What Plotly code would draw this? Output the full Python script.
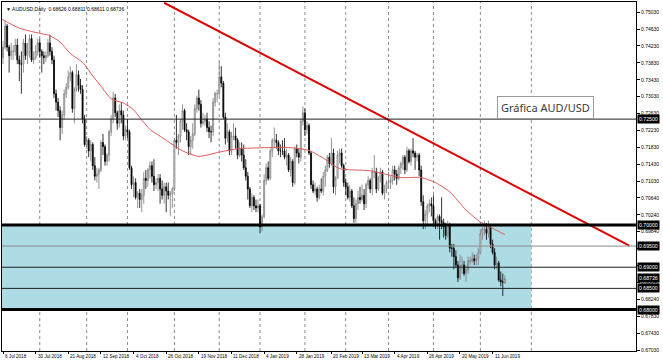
import pandas as pd
import plotly.graph_objects as go

# ---------------- data (AUDUSD daily) ----------------
opens = [0.7395,
 0.7420,0.7470,0.7420,0.7400,0.7410,
 0.7410,0.7425,0.7390,0.7380,0.7380,
 0.7430,0.7400,0.7410,0.7440,0.7390,
 0.7395,0.7410,0.7430,0.7410,0.7400,
 0.7395,0.7400,0.7430,0.7410,0.7390,
 0.7310,0.7290,0.7270,0.7230,0.7260,
 0.7310,0.7325,0.7350,0.7360,0.7275,
 0.7320,0.7355,0.7330,0.7320,0.7250,
 0.7190,0.7200,0.7175,0.7190,0.7140,
 0.7115,0.7120,0.7130,0.7195,0.7185,
 0.7150,0.7165,0.7220,0.7250,0.7300,
 0.7265,0.7240,0.7270,0.7260,0.7210,
 0.7225,0.7220,0.7135,0.7095,0.7100,
 0.7065,0.7075,0.7060,0.7070,0.7110,
 0.7105,0.7130,0.7140,0.7115,0.7095,
 0.7100,0.7110,0.7085,0.7070,0.7090,
 0.7080,0.7070,0.7075,0.7085,0.7200,
 0.7195,0.7210,0.7245,0.7270,0.7225,
 0.7220,0.7185,0.7200,0.7215,0.7275,
 0.7300,0.7285,0.7240,0.7245,0.7250,
 0.7230,0.7220,0.7220,0.7290,0.7310,
 0.7310,0.7350,0.7335,0.7255,0.7205,
 0.7220,0.7175,0.7210,0.7210,0.7200,
 0.7165,0.7180,0.7165,0.7135,0.7115,
 0.7085,0.7045,0.7065,0.7045,
 0.7040,0.7045,0.6995,0.7020,
 0.7105,0.7135,0.7110,0.7175,0.7200,
 0.7200,0.7195,0.7175,0.7175,0.7175,
 0.7160,0.7165,0.7130,0.7150,0.7100,
 0.7180,0.7170,0.7160,0.7245,0.7265,
 0.7225,0.7235,0.7170,0.7095,0.7080,
 0.7085,0.7065,0.7085,0.7080,0.7115,
 0.7130,0.7160,0.7145,0.7170,0.7090,
 0.7110,0.7165,0.7170,0.7140,0.7100,
 0.7090,0.7065,0.7080,0.7045,0.7015,
 0.7050,0.7065,0.7060,0.7070,0.7050,
 0.7095,0.7105,0.7085,0.7125,0.7125,
 0.7085,0.7110,0.7125,0.7075,0.7085,
 0.7100,0.7100,0.7105,0.7130,0.7120,
 0.7110,0.7135,0.7145,0.7160,0.7130,
 0.7175,0.7150,0.7175,0.7170,0.7160,
 0.7165,0.7130,0.7055,0.7010,0.7025,
 0.7045,0.7050,0.7045,0.7010,0.7000,
 0.7020,0.7010,0.7005,0.6995,0.6975,
 0.7000,0.6945,0.6945,0.6925,0.6905,
 0.6875,0.6905,0.6905,0.6885,0.6895,
 0.6915,0.6915,0.6920,0.6915,0.6920,
 0.6935,0.6980,0.6990,0.6990,0.6980,
 0.6995,0.6955,0.6935,0.6905,0.6910,
 0.6870,0.6865,0.68626]

highs = [0.7435,
 0.7483,0.7475,0.7425,0.7430,0.7425,
 0.7440,0.7440,0.7400,0.7410,0.7440,
 0.7450,0.7430,0.7450,0.7450,0.7410,
 0.7425,0.7440,0.7440,0.7415,0.7410,
 0.7410,0.7440,0.7450,0.7420,0.7400,
 0.7320,0.7300,0.7280,0.7270,0.7320,
 0.7335,0.7365,0.7375,0.7365,0.7325,
 0.7380,0.7365,0.7345,0.7330,0.7260,
 0.7210,0.7205,0.7200,0.7195,0.7160,
 0.7135,0.7135,0.7200,0.7215,0.7190,
 0.7170,0.7225,0.7260,0.7315,0.7310,
 0.7270,0.7285,0.7290,0.7270,0.7235,
 0.7250,0.7225,0.7140,0.7115,0.7110,
 0.7080,0.7085,0.7085,0.7125,0.7130,
 0.7135,0.7150,0.7150,0.7155,0.7110,
 0.7120,0.7120,0.7105,0.7100,0.7100,
 0.7100,0.7080,0.7090,0.7205,0.7260,
 0.7215,0.7250,0.7285,0.7275,0.7240,
 0.7225,0.7210,0.7240,0.7285,0.7305,
 0.7320,0.7295,0.7265,0.7260,0.7265,
 0.7245,0.7235,0.7300,0.7315,0.7320,
 0.7385,0.7375,0.7340,0.7265,0.7240,
 0.7225,0.7220,0.7240,0.7230,0.7205,
 0.7195,0.7195,0.7190,0.7155,0.7125,
 0.7090,0.7075,0.7070,0.7060,
 0.7060,0.7050,0.7025,0.7120,
 0.7145,0.7150,0.7180,0.7205,0.7230,
 0.7215,0.7200,0.7190,0.7200,0.7205,
 0.7180,0.7170,0.7160,0.7155,0.7185,
 0.7190,0.7180,0.7250,0.7280,0.7275,
 0.7245,0.7240,0.7175,0.7105,0.7100,
 0.7090,0.7095,0.7110,0.7125,0.7140,
 0.7165,0.7170,0.7205,0.7180,0.7115,
 0.7175,0.7180,0.7180,0.7145,0.7110,
 0.7100,0.7095,0.7085,0.7065,0.7060,
 0.7080,0.7090,0.7095,0.7085,0.7100,
 0.7115,0.7110,0.7135,0.7165,0.7135,
 0.7115,0.7135,0.7130,0.7095,0.7105,
 0.7125,0.7115,0.7140,0.7140,0.7130,
 0.7140,0.7150,0.7165,0.7165,0.7185,
 0.7180,0.7180,0.7205,0.7175,0.7170,
 0.7170,0.7140,0.7070,0.7035,0.7050,
 0.7060,0.7065,0.7070,0.7015,0.7025,
 0.7025,0.7065,0.7015,0.7005,0.7010,
 0.7005,0.6955,0.6955,0.6940,0.6915,
 0.6930,0.6925,0.6915,0.6905,0.6925,
 0.6925,0.6935,0.6930,0.6930,0.6945,
 0.6990,0.6995,0.7010,0.7005,0.7010,
 0.7000,0.6965,0.6945,0.6925,0.6915,
 0.6890,0.6885,0.68811]

lows = [0.7380,
 0.7415,0.7410,0.7360,0.7390,0.7390,
 0.7400,0.7380,0.7340,0.7310,0.7360,
 0.7390,0.7380,0.7395,0.7385,0.7380,
 0.7390,0.7400,0.7395,0.7360,0.7380,
 0.7385,0.7395,0.7400,0.7380,0.7300,
 0.7270,0.7255,0.7200,0.7215,0.7250,
 0.7300,0.7320,0.7340,0.7265,0.7240,
 0.7315,0.7315,0.7310,0.7240,0.7185,
 0.7180,0.7160,0.7150,0.7130,0.7105,
 0.7100,0.7085,0.7125,0.7165,0.7140,
 0.7140,0.7150,0.7210,0.7240,0.7255,
 0.7225,0.7230,0.7240,0.7200,0.7200,
 0.7205,0.7130,0.7085,0.7065,0.7060,
 0.7040,0.7040,0.7030,0.7050,0.7085,
 0.7090,0.7110,0.7100,0.7080,0.7085,
 0.7080,0.7050,0.7060,0.7050,0.7030,
 0.7060,0.7020,0.7040,0.7080,0.7180,
 0.7165,0.7195,0.7225,0.7220,0.7200,
 0.7165,0.7165,0.7180,0.7210,0.7265,
 0.7270,0.7230,0.7235,0.7235,0.7220,
 0.7205,0.7195,0.7210,0.7280,0.7290,
 0.7305,0.7325,0.7250,0.7190,0.7195,
 0.7165,0.7165,0.7200,0.7180,0.7155,
 0.7160,0.7150,0.7130,0.7105,0.7060,
 0.7040,0.7030,0.7035,0.7030,
 0.7030,0.6980,0.6985,0.7015,
 0.7095,0.7105,0.7105,0.7160,0.7185,
 0.7180,0.7165,0.7160,0.7165,0.7155,
 0.7140,0.7125,0.7115,0.7090,0.7095,
 0.7160,0.7145,0.7150,0.7235,0.7210,
 0.7215,0.7165,0.7085,0.7075,0.7070,
 0.7055,0.7060,0.7075,0.7070,0.7090,
 0.7125,0.7135,0.7140,0.7075,0.7070,
 0.7110,0.7145,0.7135,0.7090,0.7070,
 0.7060,0.7055,0.7040,0.7005,0.7005,
 0.7035,0.7050,0.7055,0.7035,0.7040,
 0.7085,0.7075,0.7070,0.7110,0.7075,
 0.7080,0.7100,0.7070,0.7060,0.7075,
 0.7090,0.7085,0.7095,0.7105,0.7095,
 0.7105,0.7120,0.7130,0.7120,0.7125,
 0.7145,0.7140,0.7160,0.7130,0.7150,
 0.7115,0.7045,0.6990,0.6990,0.7000,
 0.7030,0.7020,0.6995,0.6990,0.6990,
 0.6965,0.6990,0.6970,0.6965,0.6970,
 0.6935,0.6925,0.6895,0.6900,0.6865,
 0.6870,0.6885,0.6880,0.6865,0.6885,
 0.6905,0.6910,0.6905,0.6905,0.6905,
 0.6930,0.6965,0.6975,0.6965,0.6970,
 0.6945,0.6930,0.6895,0.6895,0.6865,
 0.6855,0.6832,0.68611]

closes = [0.7420,
 0.7470,0.7420,0.7400,0.7410,0.7410,
 0.7425,0.7390,0.7380,0.7380,0.7430,
 0.7400,0.7410,0.7440,0.7390,0.7395,
 0.7410,0.7430,0.7410,0.7400,0.7395,
 0.7400,0.7430,0.7410,0.7390,0.7310,
 0.7290,0.7270,0.7230,0.7260,0.7310,
 0.7325,0.7350,0.7360,0.7275,0.7320,
 0.7355,0.7330,0.7320,0.7250,0.7190,
 0.7200,0.7175,0.7190,0.7140,0.7115,
 0.7120,0.7130,0.7195,0.7185,0.7150,
 0.7165,0.7220,0.7250,0.7300,0.7265,
 0.7240,0.7270,0.7260,0.7210,0.7225,
 0.7220,0.7135,0.7095,0.7100,0.7065,
 0.7075,0.7060,0.7070,0.7110,0.7105,
 0.7130,0.7140,0.7115,0.7095,0.7100,
 0.7110,0.7085,0.7070,0.7090,0.7080,
 0.7070,0.7075,0.7085,0.7200,0.7195,
 0.7210,0.7245,0.7270,0.7225,0.7220,
 0.7185,0.7200,0.7215,0.7275,0.7300,
 0.7285,0.7240,0.7245,0.7250,0.7230,
 0.7220,0.7220,0.7290,0.7310,0.7310,
 0.7350,0.7335,0.7255,0.7205,0.7220,
 0.7175,0.7210,0.7210,0.7200,0.7165,
 0.7180,0.7165,0.7135,0.7115,0.7085,
 0.7045,0.7065,0.7045,0.7040,
 0.7045,0.6995,0.7020,0.7105,
 0.7135,0.7110,0.7175,0.7200,0.7200,
 0.7195,0.7175,0.7175,0.7175,0.7160,
 0.7165,0.7130,0.7150,0.7100,0.7180,
 0.7170,0.7160,0.7245,0.7265,0.7225,
 0.7235,0.7170,0.7095,0.7080,0.7085,
 0.7065,0.7085,0.7080,0.7115,0.7130,
 0.7160,0.7145,0.7170,0.7090,0.7110,
 0.7165,0.7170,0.7140,0.7100,0.7090,
 0.7065,0.7080,0.7045,0.7015,0.7050,
 0.7065,0.7060,0.7070,0.7050,0.7095,
 0.7105,0.7085,0.7125,0.7125,0.7085,
 0.7110,0.7125,0.7075,0.7085,0.7100,
 0.7100,0.7105,0.7130,0.7120,0.7110,
 0.7135,0.7145,0.7160,0.7130,0.7175,
 0.7150,0.7175,0.7170,0.7160,0.7165,
 0.7130,0.7055,0.7010,0.7025,0.7045,
 0.7050,0.7045,0.7010,0.7000,0.7020,
 0.7010,0.7005,0.6995,0.6975,0.7000,
 0.6945,0.6945,0.6925,0.6905,0.6875,
 0.6905,0.6905,0.6885,0.6895,0.6915,
 0.6915,0.6920,0.6915,0.6920,0.6935,
 0.6980,0.6990,0.6990,0.6980,0.6995,
 0.6955,0.6935,0.6905,0.6910,0.6870,
 0.6865,0.6865,0.68736]

# 50-day moving average at selected bars
ma_bars = [-1, 8, 15, 23, 28, 33, 39, 44, 48, 53, 59, 64, 68, 72, 80, 88, 96,
           106, 115, 125, 140, 150, 158, 165, 180, 195, 205, 212, 219, 227, 234, 240, 246]
ma_values = [0.7487, 0.7465, 0.7456, 0.7447, 0.7432, 0.7405, 0.7384, 0.7352, 0.7328,
             0.7298, 0.7288, 0.7272, 0.7248, 0.7226, 0.7200, 0.7175, 0.7162, 0.7172,
             0.7180, 0.7182, 0.7183, 0.7176, 0.7155, 0.7133, 0.7128, 0.7112, 0.7112,
             0.7100, 0.7078, 0.7035, 0.7007, 0.6992, 0.6977]

# red trend line (two anchor points: bar index, price)
trend_bars = [79, 307]
trend_prices = [0.7525, 0.6951]

# horizontal price lines
level_prices = [0.7250, 0.7000, 0.6950, 0.6900, 0.6850, 0.6800]
level_widths = [1, 3, 1, 1, 1, 3]
level_colors = ["#202020", "#000000", "#8a8a8a", "#202020", "#202020", "#000000"]

# shaded zone
zone_bars = [-0.5, 259]
zone_prices = [0.6800, 0.7000]

# price boxes on the right scale
box_prices = [0.72500, 0.70000, 0.69500, 0.69000, 0.68736, 0.68500, 0.68000]
box_texts = ["0.72500", "0.70000", "0.69500", "0.69000", "0.68736", "0.68500", "0.68000"]

# right axis ticks
y_tick_vals = [0.75030, 0.74630, 0.74230, 0.73830, 0.73430, 0.73030, 0.72630, 0.72230,
               0.71830, 0.71430, 0.71030, 0.70640, 0.70240, 0.69840, 0.69440, 0.69040,
               0.68640, 0.68240, 0.67830, 0.67430, 0.67030]
y_tick_text = ["%.5f" % v for v in y_tick_vals]

# time axis labels
x_label_dates = ["2018-07-06", "2018-07-30", "2018-08-21", "2018-09-12", "2018-10-04",
                 "2018-10-26", "2018-11-19", "2018-12-11", "2019-01-04", "2019-01-28",
                 "2019-02-20", "2019-03-13", "2019-04-04", "2019-04-26", "2019-05-20",
                 "2019-06-11"]
x_label_text = ["6 Jul 2018", "30 Jul 2018", "21 Aug 2018", "12 Sep 2018", "4 Oct 2018",
                "26 Oct 2018", "19 Nov 2018", "11 Dec 2018", "4 Jan 2019", "28 Jan 2019",
                "20 Feb 2019", "13 Mar 2019", "4 Apr 2019", "26 Apr 2019", "20 May 2019",
                "11 Jun 2019"]

# vertical dotted separators (month starts)
grid_dates = ["2018-08-01", "2018-09-03", "2018-10-01", "2018-11-01", "2018-12-03",
              "2019-01-02", "2019-02-01", "2019-03-01", "2019-04-01", "2019-05-01",
              "2019-06-03"]
future_grid_bars = [259]

title_text = "\u25bc AUDUSD,Daily  0.68626 0.68811 0.68611 0.68736"
note_text = "Gráfica AUD/USD"

# ---------------- build ----------------
holidays = {"2018-12-25", "2019-01-01"}
all_days = [d.strftime("%Y-%m-%d") for d in pd.bdate_range("2018-07-06", "2019-06-19")]
trade_days = [d for d in all_days if d not in holidays]
n = min(len(trade_days), len(opens), len(highs), len(lows), len(closes))
bars = list(range(n))
pos = {d: i for i, d in enumerate(trade_days)}

FONT = "Liberation Sans"

fig = go.Figure()

fig.add_trace(go.Candlestick(
    x=bars, open=opens[:n], high=highs[:n], low=lows[:n], close=closes[:n],
    increasing=dict(line=dict(color="#7a7a7a", width=0.8), fillcolor="#ffffff"),
    decreasing=dict(line=dict(color="#000000", width=0.8), fillcolor="#000000"),
    whiskerwidth=0, showlegend=False, hoverinfo="skip"))

fig.add_trace(go.Scatter(x=ma_bars, y=ma_values, mode="lines",
                         line=dict(color="#e05a5a", width=1, shape="spline", smoothing=0.6),
                         showlegend=False, hoverinfo="skip"))

fig.add_trace(go.Scatter(x=trend_bars, y=trend_prices, mode="lines",
                         line=dict(color="#dd0000", width=2),
                         showlegend=False, hoverinfo="skip"))

shapes = []
shapes.append(dict(type="rect", xref="x", yref="y", x0=zone_bars[0], x1=zone_bars[1],
                   y0=zone_prices[0], y1=zone_prices[1], fillcolor="#aedce4",
                   line=dict(width=0), layer="below"))
grid_bars = [pos[d] for d in grid_dates if d in pos] + future_grid_bars
for gb in grid_bars:
    shapes.append(dict(type="line", xref="x", yref="paper", x0=gb, x1=gb, y0=0, y1=1,
                       line=dict(color="#8c8c8c", width=1, dash="dot"), layer="below"))
for p, w, c in zip(level_prices, level_widths, level_colors):
    shapes.append(dict(type="line", xref="paper", yref="y", x0=0, x1=1, y0=p, y1=p,
                       line=dict(color=c, width=w), layer="above"))

annotations = []
for d, t in zip(x_label_dates, x_label_text):
    if d in pos:
        annotations.append(dict(x=pos[d], y=0, xref="x", yref="paper", text=t,
                                showarrow=False, xanchor="left", yanchor="top", yshift=-1,
                                font=dict(family=FONT, size=4.6, color="#000000")))
for p, t in zip(box_prices, box_texts):
    annotations.append(dict(x=1, y=p, xref="paper", yref="y", text=t, showarrow=False,
                            xanchor="left", yanchor="middle", xshift=1,
                            bgcolor="#000000", borderpad=1,
                            font=dict(family=FONT, size=5.2, color="#ffffff")))
annotations.append(dict(x=0, y=1, xref="paper", yref="paper", text=title_text,
                        showarrow=False, xanchor="left", yanchor="top", xshift=2, yshift=-2,
                        font=dict(family=FONT, size=5, color="#000000")))
annotations.append(dict(x=0.8565, y=0.698, xref="paper", yref="paper", text=note_text,
                        showarrow=False, xanchor="center", yanchor="middle",
                        bgcolor="#ffffff", bordercolor="#9a9a9a", borderwidth=1, borderpad=3,
                        font=dict(family="Noto Sans", size=11, color="#3a3a3a")))

fig.update_layout(
    width=663, height=362,
    margin=dict(l=2, r=27, t=2, b=11),
    paper_bgcolor="#ffffff", plot_bgcolor="#ffffff",
    shapes=shapes, annotations=annotations,
    showlegend=False,
    xaxis=dict(range=[-0.5, 310.3], rangeslider=dict(visible=False), showgrid=False,
               zeroline=False, showline=True, mirror=True, linecolor="#000000", linewidth=1,
               tickvals=[pos[d] for d in x_label_dates if d in pos], ticks="outside",
               ticklen=2, tickcolor="#000000", showticklabels=False),
    yaxis=dict(range=[0.6702, 0.75268], side="right", showgrid=False, zeroline=False,
               showline=True, mirror=True, linecolor="#000000", linewidth=1,
               tickvals=y_tick_vals, ticktext=y_tick_text, ticks="outside", ticklen=3,
               tickcolor="#000000", tickfont=dict(family=FONT, size=5, color="#000000")),
)

fig.write_html("out.html",
               config={"displayModeBar": False},
               post_script="document.body.style.margin='0px';document.body.style.padding='0px';")
